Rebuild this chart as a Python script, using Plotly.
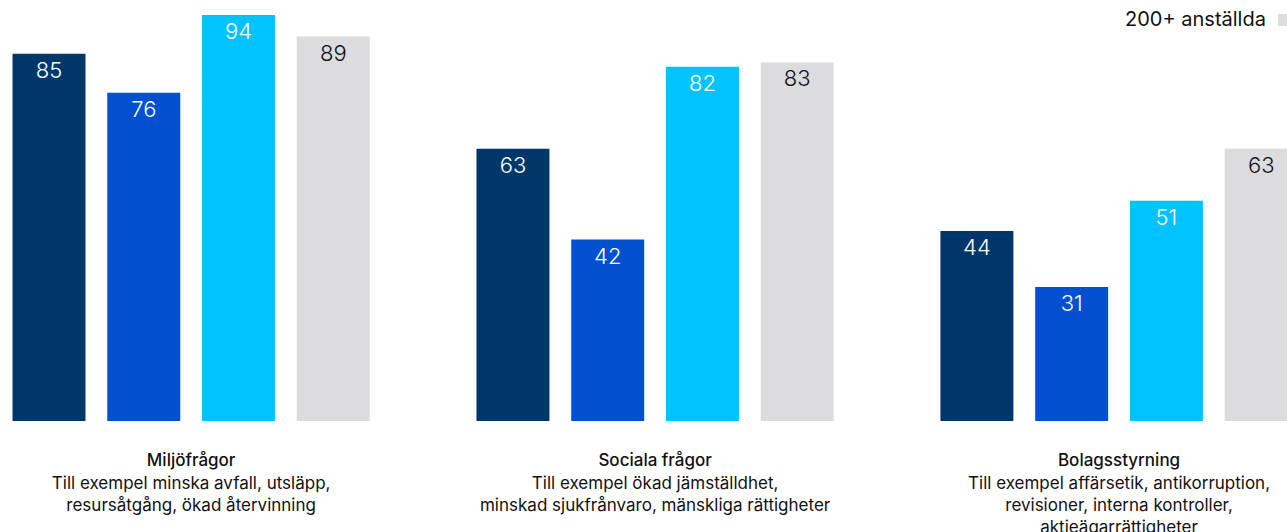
import plotly.graph_objects as go

categories = [
    "<span style='font-weight:500'>Miljöfrågor</span><br>Till exempel minska avfall, utsläpp,<br>resursåtgång, ökad återvinning",
    "<span style='font-weight:500'>Sociala frågor</span><br>Till exempel ökad jämställdhet,<br>minskad sjukfrånvaro, mänskliga rättigheter",
    "<span style='font-weight:500'>Bolagsstyrning</span><br>Till exempel affärsetik, antikorruption,<br>revisioner, interna kontroller,<br>aktieägarrättigheter",
]
series_names = ["Serie 1", "Serie 2", "Serie 3", "200+ anställda"]
series_values = [
    [85, 63, 44],
    [76, 42, 31],
    [94, 82, 51],
    [89, 83, 63],
]
colors = ["#00376B", "#0050CF", "#00C3FF", "#DCDCDE"]
text_colors = ["#FFFFFF", "#FFFFFF", "#FFFFFF", "#111111"]

W, H = 1287, 532
fig = go.Figure()
for name, vals, c, tc in zip(series_names, series_values, colors, text_colors):
    fig.add_trace(go.Bar(
        x=categories, y=vals, name=name,
        marker=dict(color=c, line=dict(width=0)),
        texttemplate="%{y}", textposition="inside", insidetextanchor="end",
        textangle=0,
        textfont=dict(color=tc, size=22, family="Inter", weight=300),
        showlegend=False, hoverinfo="skip",
    ))

fig.update_layout(
    width=W, height=H,
    margin=dict(l=0, r=0, t=0, b=111),
    barmode="group", bargap=0.183, bargroupgap=0.23,
    plot_bgcolor="white", paper_bgcolor="white",
    font=dict(family="Inter", color="#111111"),
    xaxis=dict(range=[-0.412, 2.362], showgrid=False, zeroline=False, showline=False,
               ticks="outside", ticklen=24, tickcolor="rgba(0,0,0,0)", automargin=False,
               tickfont=dict(size=17, color="#111111", family="Inter")),
    yaxis=dict(range=[0, 97.45], visible=False, showgrid=False, zeroline=False),
)

fig.add_annotation(
    xref="paper", yref="paper", x=1268 / W, y=1 - 19 / 421,
    xanchor="right", yanchor="middle", showarrow=False,
    text="200+ anställda", font=dict(size=20, color="#111111", family="Inter"),
)
fig.add_shape(
    type="rect", xref="paper", yref="paper",
    x0=1278 / W, x1=1.01, y0=1 - 26 / 421, y1=1 - 14 / 421,
    fillcolor="#DCDCDE", line=dict(width=0),
)

fig.write_html(
    "out.html",
    config={"displayModeBar": False},
    post_script="document.body.style.margin='0';document.body.style.overflow='hidden';",
)
